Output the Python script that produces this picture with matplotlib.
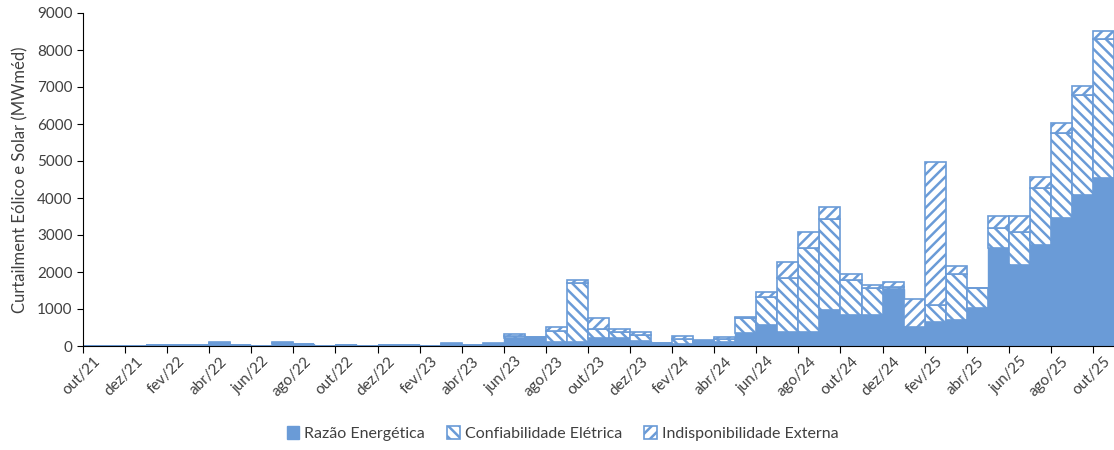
import numpy as np
import matplotlib.pyplot as plt

plt.rcParams['font.family'] = ['Lato', 'DejaVu Sans']
plt.rcParams['hatch.linewidth'] = 1.8

# Meses (out/21 a out/25)
meses = ['out/21', 'nov/21', 'dez/21', 'jan/22', 'fev/22', 'mar/22', 'abr/22',
         'mai/22', 'jun/22', 'jul/22', 'ago/22', 'set/22', 'out/22', 'nov/22',
         'dez/22', 'jan/23', 'fev/23', 'mar/23', 'abr/23', 'mai/23', 'jun/23',
         'jul/23', 'ago/23', 'set/23', 'out/23', 'nov/23', 'dez/23', 'jan/24',
         'fev/24', 'mar/24', 'abr/24', 'mai/24', 'jun/24', 'jul/24', 'ago/24',
         'set/24', 'out/24', 'nov/24', 'dez/24', 'jan/25', 'fev/25', 'mar/25',
         'abr/25', 'mai/25', 'jun/25', 'jul/25', 'ago/25', 'set/25', 'out/25']

# Curtailment por motivo (MWméd)
razao = [10, 10, 10, 30, 30, 30, 50, 30, 10, 50,
         50, 10, 30, 10, 30, 30, 10, 40, 15, 50,
         220, 240, 100, 100, 210, 210, 140, 80, 50, 100,
         110, 340, 570, 370, 370, 975, 840, 840, 1550, 480,
         660, 700, 1020, 2640, 2190, 2730, 3450, 4080, 4530]
confiab = [0, 0, 0, 0, 0, 0, 20, 0, 0, 30,
           10, 0, 0, 0, 0, 0, 0, 20, 0, 10,
           50, 10, 310, 1610, 240, 180, 160, 0, 150, 40,
           90, 420, 760, 1460, 2270, 2445, 945, 720, 40, 30,
           450, 1245, 540, 540, 900, 1530, 2300, 2705, 3760]
indisp = [0, 0, 0, 0, 0, 0, 30, 10, 0, 40,
          0, 0, 0, 0, 0, 0, 0, 30, 0, 10,
          50, 0, 110, 70, 300, 70, 90, 10, 70, 20,
          40, 15, 140, 450, 450, 350, 155, 90, 150, 750,
          3870, 215, 10, 340, 430, 300, 285, 250, 220]

azul = '#6A9BD7'
cinza = '#404040'

x = np.arange(len(meses))
razao = np.array(razao)
confiab = np.array(confiab)
indisp = np.array(indisp)

fig = plt.figure(figsize=(11.14, 4.5), dpi=100)
ax = fig.add_axes([83 / 1114, 104 / 450, 1031 / 1114, 333 / 450])

ax.bar(x, razao, width=1.0, color=azul, edgecolor=azul, linewidth=1,
       label='Razão Energética')
ax.bar(x, confiab, width=1.0, bottom=razao, facecolor='white', edgecolor=azul,
       hatch='\\\\\\', linewidth=1.2, label='Confiabilidade Elétrica')
ax.bar(x, indisp, width=1.0, bottom=razao + confiab, facecolor='white',
       edgecolor=azul, hatch='///', linewidth=1.2, label='Indisponibilidade Externa')

ax.set_xlim(-0.5, len(meses) - 0.5)
ax.set_ylim(0, 9000)
ax.set_yticks(np.arange(0, 9001, 1000))
ax.tick_params(axis='y', direction='out', length=4, labelsize=11,
               labelcolor=cinza, color='black')

# marcas entre categorias, rótulos a cada dois meses
ax.set_xticks(np.arange(-0.5, len(meses), 2))
ax.set_xticklabels([])
ax.set_xticks(x[::2], minor=True)
ax.set_xticklabels(meses[::2], minor=True, rotation=45, ha='right',
                   rotation_mode='anchor', fontsize=11, color=cinza)
ax.tick_params(axis='x', which='major', direction='out', length=5, color='black')
ax.tick_params(axis='x', which='minor', length=0, pad=6)

ax.spines['top'].set_visible(False)
ax.spines['right'].set_visible(False)
ax.spines['left'].set_color('black')
ax.spines['bottom'].set_color('black')

ax.set_ylabel('Curtailment Eólico e Solar (MWméd)', fontsize=12, color=cinza,
              labelpad=6)

fig.legend(loc='center', bbox_to_anchor=(0.505, 0.036), ncol=3, frameon=False,
           handlelength=0.8, handleheight=0.8, handletextpad=0.3,
           columnspacing=1.4, fontsize=11.5, labelcolor=cinza)

fig.savefig('out.png', dpi=100)
